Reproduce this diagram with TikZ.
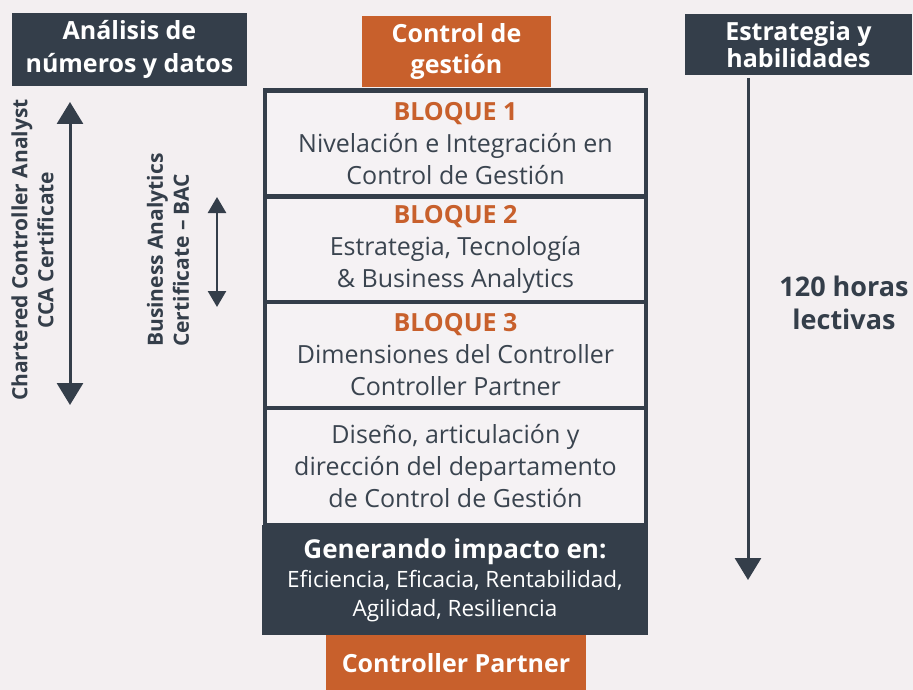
\documentclass[tikz,border=0pt]{standalone}
\usepackage{fontspec}
\setmainfont{Open Sans}
\usetikzlibrary{arrows.meta}
\definecolor{bg}{HTML}{F3EFF1}
\definecolor{dark}{HTML}{343E4A}
\definecolor{orng}{HTML}{C8602C}
\definecolor{boxfill}{HTML}{F5F2F4}
\definecolor{txt}{HTML}{3A444F}
\begin{document}
\begin{tikzpicture}[x=1pt,y=-1pt,
  hdr/.style={fill=dark, text=white, align=center, inner sep=0pt,
    font=\bfseries\fontsize{25}{30}\selectfont},
  ohdr/.style={hdr, fill=orng},
  blk/.style={draw=dark, line width=4.7pt, fill=boxfill, minimum width=381pt,
    text=txt, align=center, inner sep=0pt, font=\fontsize{25}{32}\selectfont},
  side/.style={text=dark, font=\bfseries\fontsize{21}{26}\selectfont, inner sep=0pt},
  arr/.style={draw=dark, line width=3pt},
  bigtip/.style={arr, {Triangle[width=26pt,length=22pt]}-{Triangle[width=26pt,length=22pt]}},
  smalltip/.style={arr, line width=2.6pt, {Triangle[width=18pt,length=16pt]}-{Triangle[width=18pt,length=16pt]}},
  downtip/.style={arr, -{Triangle[width=26pt,length=22pt]}}
]
\fill[bg] (0,0) rectangle (913,690);
\useasboundingbox (0,0) rectangle (913,690);

% headers
\node[hdr, minimum width=235pt, minimum height=73pt] (h1) at (129.5,49.5)
  {Análisis de\\[3pt]números y datos};
\node[hdr, minimum width=227pt, minimum height=61pt, font=\bfseries\fontsize{25}{27}\selectfont] (h3) at (798.5,44.5)
  {Estrategia y\\habilidades};

% blocks
\node[blk, minimum height=106.2pt] (b1) at (455.5,143.6)
  {{\bfseries\color{orng}BLOQUE 1}\\Nivelación e Integración en\\Control de Gestión};
\node[blk, minimum height=105.3pt] (b2) at (455.5,249.3)
  {{\bfseries\color{orng}BLOQUE 2}\\Estrategia, Tecnología\\\& Business Analytics};
\node[blk, minimum height=106pt] (b3) at (455.5,355)
  {{\bfseries\color{orng}BLOQUE 3}\\Dimensiones del Controller\\Controller Partner};
\node[blk, minimum height=117pt] (b4) at (455.5,466.5)
  {Diseño, articulación y\\dirección del departamento\\de Control de Gestión};
\node[hdr, minimum width=386pt, minimum height=110pt, font=\fontsize{22.5}{29}\selectfont] (imp) at (455,580)
  {{\bfseries\fontsize{26}{29}\selectfont Generando impacto en:}\\Eficiencia, Eficacia, Rentabilidad,\\Agilidad, Resiliencia};

\node[ohdr, minimum width=189pt, minimum height=71pt] (h2) at (456.5,51.5)
  {Control de\\[1pt]gestión};
\node[ohdr, minimum width=260pt, minimum height=56pt] (cp) at (456,663)
  {Controller Partner};

% left side
\coordinate (la1) at (70,102);
\coordinate (la2) at (70,405);
\draw[bigtip] (la1) -- (la2);
\node[side, rotate=90, align=center] (cca) at (32.5,250)
  {Chartered Controller Analyst\\CCA Certificate};
\coordinate (sa1) at (217,197);
\coordinate (sa2) at (217,307);
\draw[smalltip] (sa1) -- (sa2);
\node[side, rotate=90, align=left, anchor=west] (bac) at (168,347)
  {Business Analytics\\Certificate – BAC};

% right side
\coordinate (ra1) at (748,78);
\coordinate (ra2) at (748,580);
\draw[downtip] (ra1) -- (ra2);
\node[text=dark, align=center, font=\bfseries\fontsize{27}{33}\selectfont] (hrs) at (844,303)
  {120 horas\\lectivas};
\end{tikzpicture}
\end{document}
